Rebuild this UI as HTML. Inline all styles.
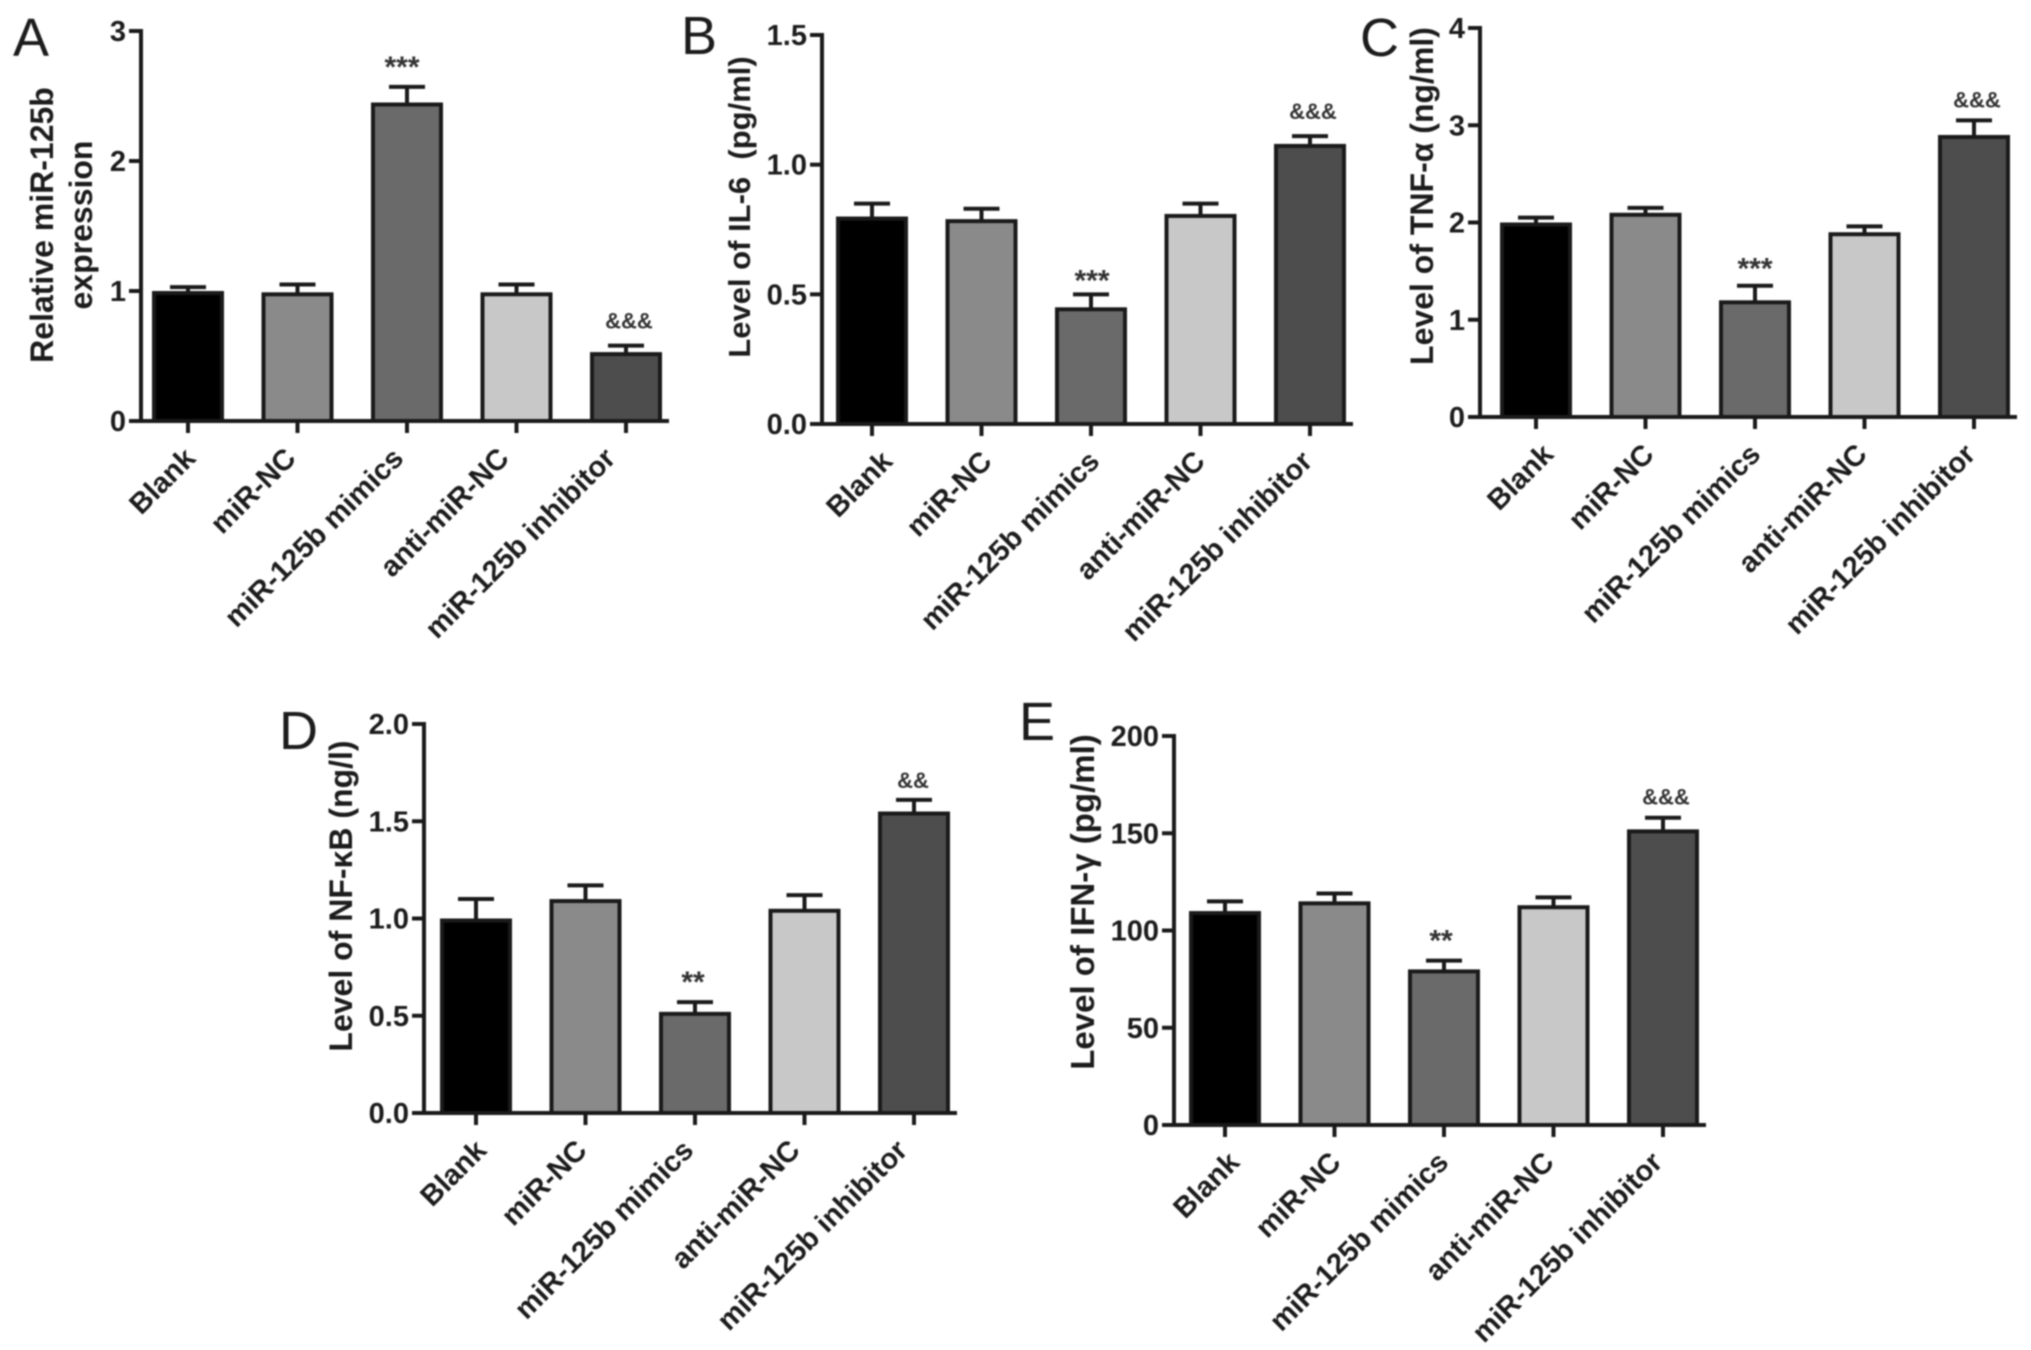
<!DOCTYPE html>
<html lang="en">
<head>
<meta charset="utf-8">
<title>miR-125b bar charts</title>
<style>
html,body{margin:0;padding:0;background:#fff;width:2031px;height:1350px;overflow:hidden}
svg{display:block;filter:blur(.7px)}
text{font-family:"Liberation Sans",sans-serif;fill:#1c1c1c}
.tick{font-size:29px;font-weight:700;text-anchor:end}
.cat{font-size:29px;font-weight:700;text-anchor:end}
.ytitle{font-weight:700;text-anchor:middle}
.letter{font-size:54px;font-weight:400}
.note{font-weight:700;text-anchor:middle;fill:#333}
</style>
</head>
<body>
<svg id="figure" width="2031" height="1350" viewBox="0 0 2031 1350" xmlns="http://www.w3.org/2000/svg"></svg>
<script>
// Shared categories and bar fills
const categories = ["Blank", "miR-NC", "miR-125b mimics", "anti-miR-NC", "miR-125b inhibitor"];
const barFills = ["#000000", "#8a8a8a", "#6a6a6a", "#c8c8c8", "#4d4d4d"];

// Panel A
const aValues = [1.0, 0.99, 2.45, 0.99, 0.53];
const aErrorTops = [1.03, 1.05, 2.57, 1.05, 0.58];
const aTicks = [0, 1, 2, 3];
const aTickLabels = ["0", "1", "2", "3"];
const aNotes = ["", "", "***", "", "&&&"];

// Panel B
const bValues = [0.80, 0.79, 0.45, 0.81, 1.08];
const bErrorTops = [0.85, 0.83, 0.50, 0.85, 1.11];
const bTicks = [0, 0.5, 1.0, 1.5];
const bTickLabels = ["0.0", "0.5", "1.0", "1.5"];
const bNotes = ["", "", "***", "", "&&&"];

// Panel C
const cValues = [2.0, 2.1, 1.2, 1.9, 2.9];
const cErrorTops = [2.05, 2.15, 1.35, 1.96, 3.05];
const cTicks = [0, 1, 2, 3, 4];
const cTickLabels = ["0", "1", "2", "3", "4"];
const cNotes = ["", "", "***", "", "&&&"];

// Panel D
const dValues = [1.0, 1.1, 0.52, 1.05, 1.55];
const dErrorTops = [1.1, 1.17, 0.57, 1.12, 1.61];
const dTicks = [0, 0.5, 1.0, 1.5, 2.0];
const dTickLabels = ["0.0", "0.5", "1.0", "1.5", "2.0"];
const dNotes = ["", "", "**", "", "&&"];

// Panel E
const eValues = [110, 115, 80, 113, 152];
const eErrorTops = [115, 119, 84.5, 117, 158];
const eTicks = [0, 50, 100, 150, 200];
const eTickLabels = ["0", "50", "100", "150", "200"];
const eNotes = ["", "", "**", "", "&&&"];

const svg = document.getElementById('figure');
const NS = 'http://www.w3.org/2000/svg';
const INK = '#1a1a1a';
const SW = 4;

function make(tag, attrs, parent, content) {
  const el = document.createElementNS(NS, tag);
  for (const k in attrs) el.setAttribute(k, attrs[k]);
  if (content !== undefined) el.textContent = content;
  parent.appendChild(el);
  return el;
}

function drawPanel(p) {
  const g = make('g', {}, svg);
  
  

  const yMax = p.ticks[p.ticks.length - 1];
  const yScale = v => p.base - (v / yMax) * (p.base - p.top);
  const xScale = i => p.firstX + i * p.step;
  const xEnd = xScale(categories.length - 1) + p.barW / 2 + 9;

  const letter = make('text', {x: p.letterX, y: p.letterY, class: 'letter'}, g, p.id);
  
  

  p.title.forEach((line, i) => {
    const tx = p.titleX + i * 39;
    const title = make('text', {x: tx, y: p.titleY, class: 'ytitle', 'font-size': p.titleSize, transform: 'rotate(-90 ' + tx + ' ' + p.titleY + ')'}, g, line);
    
    
  });

  // Bars, error bars and annotations
  p.values.forEach((v, i) => {
    const cx = xScale(i);
    const yTop = yScale(v) + SW / 2;
    const yErr = yScale(p.errors[i]);

    const stem = make('line', {x1: cx, x2: cx, y1: yTop, y2: yErr, stroke: INK, 'stroke-width': SW}, g);
    
    

    const cap = make('line', {x1: cx - 18, x2: cx + 18, y1: yErr, y2: yErr, stroke: INK, 'stroke-width': SW}, g);
    
    

    const bar = make('rect', {x: cx - p.barW / 2, y: yTop, width: p.barW, height: p.base - yTop, fill: barFills[i], stroke: INK, 'stroke-width': SW}, g);
    
    

    if (p.notes[i]) {
      const isStar = p.notes[i].charAt(0) === '*';
      const noteX = cx + (isStar ? p.starDx : p.ampDx);
      const noteY = isStar ? yErr - 10 + p.starShift : yErr - 17 + p.ampShift;
      const note = make('text', {x: noteX, y: noteY, class: 'note', 'font-size': isStar ? 30 : 22}, g, p.notes[i]);
      
      
    }
  });

  // Y axis
  const yAxis = make('line', {x1: p.axisX, x2: p.axisX, y1: p.top - 2, y2: p.base, stroke: INK, 'stroke-width': SW}, g);
  
  

  p.ticks.forEach((t, i) => {
    const y = yScale(t);
    const mark = make('line', {x1: p.axisX - 12, x2: p.axisX, y1: y, y2: y, stroke: INK, 'stroke-width': SW}, g);
    
    
    const label = make('text', {x: p.axisX - 15, y: y + 10, class: 'tick'}, g, p.tickLabels[i]);
    
    
  });

  // X axis
  const xAxis = make('line', {x1: p.axisX - 12, x2: xEnd, y1: p.base, y2: p.base, stroke: INK, 'stroke-width': SW}, g);
  
  

  categories.forEach((c, i) => {
    const x = xScale(i);
    const mark = make('line', {x1: x, x2: x, y1: p.base, y2: p.base + 12, stroke: INK, 'stroke-width': SW}, g);
    
    
    const ax = x + p.labelDx[i];
    const ay = p.base + 39;
    const label = make('text', {x: ax, y: ay, class: 'cat', transform: 'rotate(-45 ' + ax + ' ' + ay + ')'}, g, c);
    
    
  });
}

drawPanel({id: 'A', values: aValues, errors: aErrorTops, ticks: aTicks, tickLabels: aTickLabels, notes: aNotes,
  axisX: 141, top: 31, base: 421, firstX: 188, step: 109.5, barW: 68, starDx: -5, starShift: 0, ampDx: 3, ampShift: 0,
  labelDx: [9, 0, -2, -6, -9],
  title: ['Relative miR-125b', 'expression'], titleSize: 32, titleX: 53, titleY: 225, letterX: 13, letterY: 56});
drawPanel({id: 'B', values: bValues, errors: bErrorTops, ticks: bTicks, tickLabels: bTickLabels, notes: bNotes,
  axisX: 822, top: 35, base: 424, firstX: 872, step: 109.5, barW: 68, starDx: 1, starShift: 6, ampDx: 3, ampShift: 0,
  labelDx: [22, 12, 10, 6, 4],
  title: ['Level of IL-6\u00A0 (pg/ml)'], titleSize: 31, titleX: 750, titleY: 207, letterX: 681, letterY: 54});
drawPanel({id: 'C', values: cValues, errors: cErrorTops, ticks: cTicks, tickLabels: cTickLabels, notes: cNotes,
  axisX: 1480, top: 28, base: 417, firstX: 1536, step: 109.5, barW: 68, starDx: 0, starShift: 3, ampDx: 3, ampShift: 4,
  labelDx: [19, 10, 7, 4, 3],
  title: ['Level of TNF-\u03B1 (ng/ml)'], titleSize: 32, titleX: 1433, titleY: 196, letterX: 1360, letterY: 56});
drawPanel({id: 'D', values: dValues, errors: dErrorTops, ticks: dTicks, tickLabels: dTickLabels, notes: dNotes,
  axisX: 424, top: 724, base: 1113, firstX: 476, step: 109.5, barW: 68, starDx: -2, starShift: 0, ampDx: -1, ampShift: 5,
  labelDx: [12, 3, 0, -3, -5],
  title: ['Level of NF-\u03BAB (ng/l)'], titleSize: 32, titleX: 352, titleY: 896, letterX: 279, letterY: 749});
drawPanel({id: 'E', values: eValues, errors: eErrorTops, ticks: eTicks, tickLabels: eTickLabels, notes: eNotes,
  axisX: 1174, top: 736, base: 1125, firstX: 1225, step: 109.5, barW: 68, starDx: -3, starShift: 0, ampDx: 3, ampShift: 4,
  labelDx: [16, 8, 6, 2, 1],
  title: ['Level of IFN-\u03B3 (pg/ml)'], titleSize: 33, titleX: 1094, titleY: 902, letterX: 1019, letterY: 740});
</script>
</body>
</html>
